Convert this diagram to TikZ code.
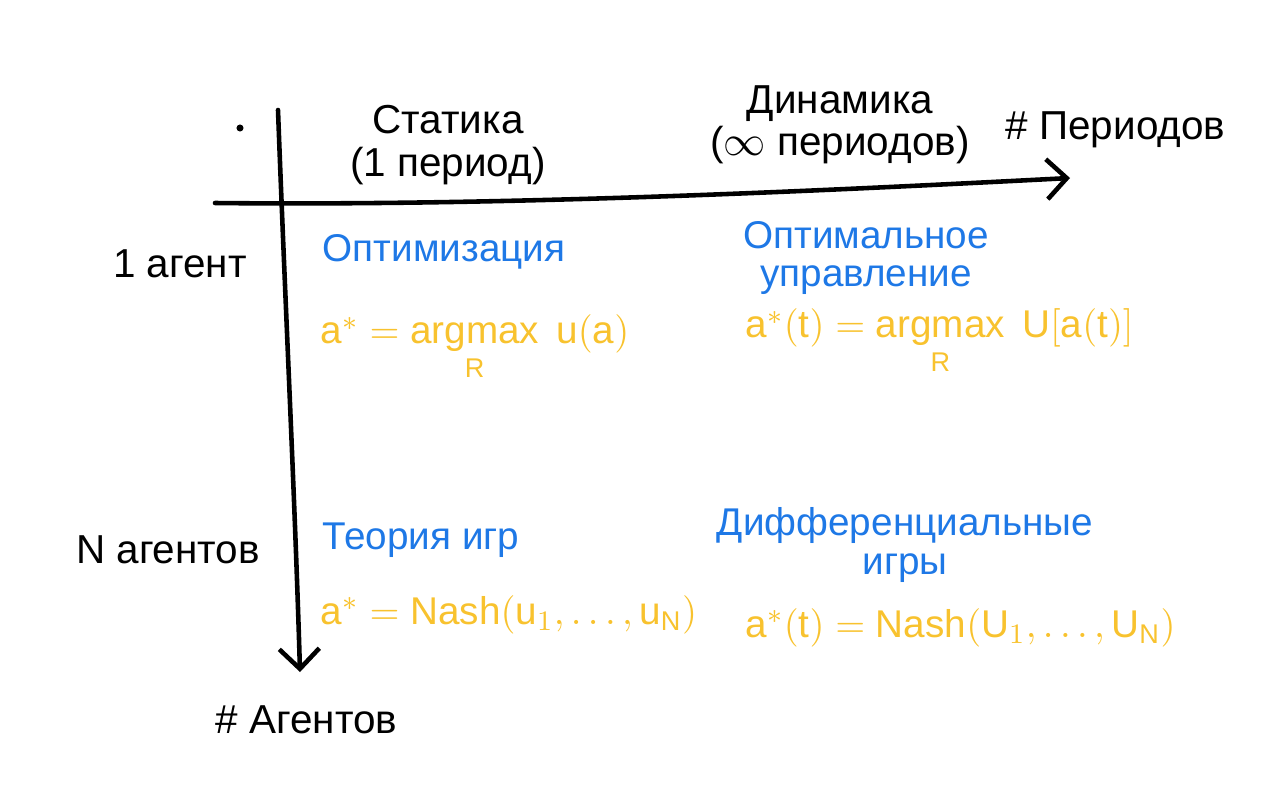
\documentclass[tikz,border=0pt]{standalone}
\usepackage{amsmath}
\usepackage{fontspec}
\setmainfont{Liberation Sans}
\usetikzlibrary{arrows.meta,positioning}

\definecolor{penblue}{RGB}{30,120,230}
\definecolor{penyellow}{RGB}{248,194,46}

\begin{document}
\begin{tikzpicture}[x=0.01cm,y=-0.01cm,>={Straight Barb[length=2mm,width=4mm]},
  axis/.style={line width=1.3pt,black,line cap=round},
  lbl/.style={black,font=\fontsize{11.5}{12}\selectfont,align=center,inner sep=0pt},
  topic/.style={penblue,font=\fontsize{11}{11}\selectfont,align=center,inner sep=0pt},
  formula/.style={penyellow,font=\fontsize{11}{13}\selectfont,anchor=west,inner sep=0pt}]
  \useasboundingbox (0,0) rectangle (1280,797);

  % axes
  \coordinate (hstart) at (215,203);
  \coordinate (hend) at (1070,178);
  \coordinate (vstart) at (278,110);
  \coordinate (vend) at (300,672);
  \draw[axis,->] (hstart) .. controls (500,206) and (800,192) .. (hend);
  \draw[axis,->] (vstart) .. controls (285,300) and (295,500) .. (vend);
  \coordinate (tick) at (240,128);
  \fill (tick) circle (1pt);

  % column and row headings
  \node[lbl] (static) at (448,145) {Статика\\(1 период)};
  \node[lbl] (dynamic) at (840,125) {Динамика\\($\infty$ периодов)};
  \node[lbl,anchor=west] (periods) at (1005,130) {\# Периодов};
  \node[lbl] (agent1) at (180,264) {1 агент};
  \node[lbl] (agentN) at (168,550) {N агентов};
  \node[lbl,anchor=west] (agents) at (215,720) {\# Агентов};

  % cells
  \node[topic,anchor=west] (optim) at (322,252) {Оптимизация};
  \node[topic] (control) at (866,258) {Оптимальное\\управление};
  \node[topic,anchor=west] (games) at (322,540) {Теория игр};
  \node[topic] (diffgames) at (905,545) {Дифференциальные\\игры};

  \node[formula] (f11) at (320,348) {$\mathrm{a}^{*} = \displaystyle\operatorname*{argmax}_{\mathrm{R}}\ \mathrm{u(a)}$};
  \node[formula] (f12) at (745,342) {$\mathrm{a}^{*}\mathrm{(t)} = \displaystyle\operatorname*{argmax}_{\mathrm{R}}\ \mathrm{U[a(t)]}$};
  \node[formula] (f21) at (320,615) {$\mathrm{a}^{*} = \mathrm{Nash}(\mathrm{u}_{1},\ldots,\mathrm{u}_{\mathrm{N}})$};
  \node[formula] (f22) at (745,628) {$\mathrm{a}^{*}\mathrm{(t)} = \mathrm{Nash}(\mathrm{U}_{1},\ldots,\mathrm{U}_{\mathrm{N}})$};
\end{tikzpicture}
\end{document}
